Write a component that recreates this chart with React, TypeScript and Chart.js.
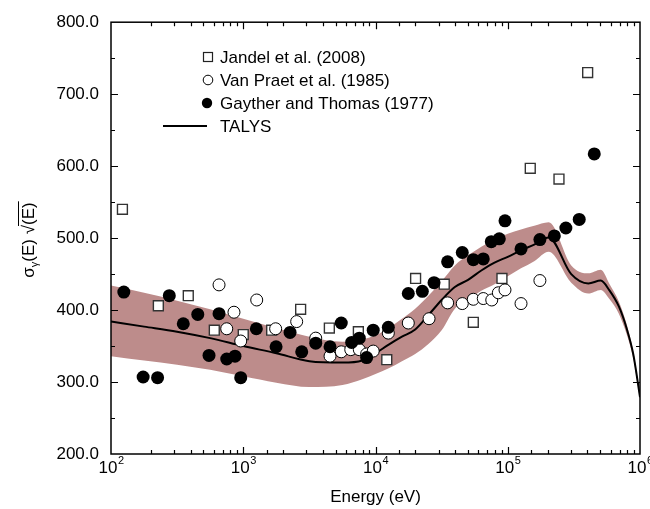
import React, { useEffect, useRef } from 'react';
import { Chart, registerables } from 'chart.js';

Chart.register(...registerables);

const FONT = '"Liberation Sans", Arial, Helvetica, sans-serif';
const BAND = '#bd8c8b';

// Jandel et al. (2008)
const jandelE = [122, 228, 384, 604, 1000, 1640, 2716, 4477, 7420, 12170, 20100, 33100, 54900, 90400, 148000, 244000, 402000];
const jandelS = [540, 406, 420, 372, 366, 372, 401, 375, 370, 331, 444, 436, 383, 444, 597, 582, 730];

// Van Praet et al. (1985)
const praetE = [656, 750, 851, 957, 1264, 1758, 2535, 3532, 4531, 5510, 6500, 7540, 8570, 9610, 12500, 17700, 25400, 35100, 45300, 54900, 65300, 75700, 84900, 95300, 126000, 175000];
const praetS = [435, 374, 397, 357, 414, 374, 384, 361, 336, 342, 345, 345, 339, 343, 368, 382, 388, 410, 409, 415, 416, 414, 424, 428, 409, 441];

// Gayther and Thomas (1977)
const gaytherE = [125, 175, 225, 276, 352, 453, 551, 656, 750, 866, 957, 1256, 1771, 2259, 2768, 3532, 4531, 5510, 6602, 7540, 8570, 9610, 12500, 17700, 22600, 27700, 35100, 45300, 54900, 65300, 75100, 86300, 95300, 126000, 175000, 225000, 275000, 347000, 451000];
const gaytherS = [425, 307, 306, 420, 381, 394, 337, 395, 332, 336, 306, 374, 349, 369, 342, 354, 349, 382, 355, 361, 334, 372, 376, 423, 426, 438, 467, 480, 470, 471, 495, 499, 524, 485, 498, 503, 514, 526, 617];

// TALYS calculation and its uncertainty band
const talysE = [100, 178, 316, 562, 1000, 1778, 3162, 5623, 7943, 10000, 12589, 15849, 19953, 25119, 31623, 39811, 50119, 63096, 79433, 100000, 125893, 158489, 204000, 302000, 407000, 505000, 589000, 692000, 794000, 891000, 1000000];
const talysS = [384, 377, 370, 361, 350, 340, 329, 327, 330, 340, 352, 363, 373, 393, 414, 432, 442, 455, 466, 474, 483, 491, 501, 450, 437, 441, 427, 405, 374, 338, 279];
const bandUpper = [434, 424, 413, 401, 388, 375, 363, 356, 359, 365, 375, 388, 402, 420, 440, 462, 476, 488, 498, 506, 512, 517, 522, 462, 451, 456, 436, 412, 380, 342, 282];
const bandLower = [336, 330, 324, 317, 308, 299, 293, 296, 304, 311, 319, 329, 339, 353, 372, 402, 415, 427, 436, 447, 458, 468, 481, 438, 423, 428, 415, 395, 366, 332, 276];

const xTickExponents = [2, 3, 4, 5, 6];
const legendLabels = ['Jandel et al. (2008)', 'Van Praet et al. (1985)', 'Gayther and Thomas (1977)', 'TALYS'];
const xTitle = 'Energy (eV)';

const pts = (xs: number[], ys: number[]) => xs.map((x, i) => ({ x, y: ys[i] }));

const decorPlugin = {
  id: 'decor',
  afterDraw(chart: any) {
    const { ctx, chartArea: a, scales } = chart;
    const xs = scales.x;
    const ys = scales.y;
    ctx.save();
    // frame
    ctx.strokeStyle = '#000';
    ctx.lineWidth = 1.5;
    ctx.strokeRect(a.left, a.top, a.right - a.left, a.bottom - a.top);
    // x ticks (inward, bottom and top)
    ctx.lineWidth = 1.2;
    ctx.beginPath();
    for (const t of xs.ticks) {
      const v = t.value;
      if (v <= xs.min || v >= xs.max) continue;
      const major = Math.abs(Math.log10(v) - Math.round(Math.log10(v))) < 1e-6;
      const len = major ? 7 : 4;
      const px = Math.round(xs.getPixelForValue(v)) + 0.5;
      ctx.moveTo(px, a.bottom);
      ctx.lineTo(px, a.bottom - len);
      ctx.moveTo(px, a.top);
      ctx.lineTo(px, a.top + len);
    }
    // y ticks (inward, left and right)
    for (const t of ys.ticks) {
      const v = t.value;
      if (v <= ys.min || v >= ys.max) continue;
      const major = v % 100 === 0;
      const len = major ? 7 : 4;
      const py = Math.round(ys.getPixelForValue(v)) + 0.5;
      ctx.moveTo(a.left, py);
      ctx.lineTo(a.left + len, py);
      ctx.moveTo(a.right, py);
      ctx.lineTo(a.right - len, py);
    }
    ctx.stroke();

    // x tick labels 10^n
    ctx.fillStyle = '#000';
    ctx.textBaseline = 'alphabetic';
    ctx.textAlign = 'left';
    for (const e of xTickExponents) {
      const px = xs.getPixelForValue(Math.pow(10, e));
      ctx.font = `17px ${FONT}`;
      const w1 = ctx.measureText('10').width;
      ctx.font = `11px ${FONT}`;
      const w2 = ctx.measureText(String(e)).width;
      const x0 = px - (w1 + w2) / 2;
      ctx.font = `17px ${FONT}`;
      ctx.fillText('10', x0, a.bottom + 19);
      ctx.font = `11px ${FONT}`;
      ctx.fillText(String(e), x0 + w1 + 0.5, a.bottom + 10);
    }
    // x title
    ctx.font = `17px ${FONT}`;
    ctx.textAlign = 'center';
    ctx.fillText(xTitle, (a.left + a.right) / 2, a.bottom + 48);

    // y title: sigma_gamma(E) sqrt(E)
    ctx.save();
    ctx.translate(28, 240);
    ctx.rotate(-Math.PI / 2);
    ctx.textAlign = 'left';
    const parts: [string, number, number][] = [
      ['σ', 17, 0],
      ['γ', 11, 4],
      ['(E) ', 17, 0],
      ['√', 17, 0],
      ['(E)', 17, 0],
    ];
    let total = 0;
    const widths: number[] = [];
    for (const [s, f] of parts) {
      ctx.font = `${f}px ${FONT}`;
      const w = ctx.measureText(s).width;
      widths.push(w);
      total += w;
    }
    let cx = -total / 2;
    const base = 6;
    let barStart = 0;
    parts.forEach(([s, f, dy], i) => {
      ctx.font = `${f}px ${FONT}`;
      ctx.fillText(s, cx, base + dy);
      if (i === 4) barStart = cx - 1;
      cx += widths[i];
    });
    ctx.lineWidth = 1;
    ctx.beginPath();
    ctx.moveTo(barStart, base - 15.5);
    ctx.lineTo(cx + 1, base - 15.5);
    ctx.stroke();
    ctx.restore();

    // legend
    const rows = [57, 80, 103, 126];
    const mx = 208;
    const tx = 220;
    ctx.font = `17px ${FONT}`;
    ctx.textAlign = 'left';
    ctx.textBaseline = 'middle';
    legendLabels.forEach((lab, i) => {
      const y = rows[i];
      ctx.fillText(lab, tx, y + 1);
    });
    ctx.lineWidth = 1.2;
    ctx.strokeStyle = '#222';
    ctx.fillStyle = '#fff';
    ctx.fillRect(mx - 4.5, rows[0] - 4.5, 9, 9);
    ctx.strokeRect(mx - 4.5, rows[0] - 4.5, 9, 9);
    ctx.beginPath();
    ctx.arc(mx, rows[1], 4.8, 0, Math.PI * 2);
    ctx.fill();
    ctx.strokeStyle = '#000';
    ctx.lineWidth = 1;
    ctx.stroke();
    ctx.fillStyle = '#000';
    ctx.beginPath();
    ctx.arc(mx - 1, rows[2], 5.2, 0, Math.PI * 2);
    ctx.fill();
    ctx.lineWidth = 2;
    ctx.beginPath();
    ctx.moveTo(163, rows[3]);
    ctx.lineTo(207, rows[3]);
    ctx.stroke();
    ctx.restore();
  },
};

export default function App() {
  const ref = useRef<HTMLCanvasElement>(null);
  useEffect(() => {
    const canvas = ref.current!;
    const chart = new Chart(canvas, {
      type: 'scatter',
      data: {
        datasets: [
          {
            label: legendLabels[2],
            data: pts(gaytherE, gaytherS),
            pointStyle: 'circle',
            pointRadius: 6.5,
            backgroundColor: '#000',
            borderColor: '#000',
            borderWidth: 0,
            order: 1,
          },
          {
            label: legendLabels[1],
            data: pts(praetE, praetS),
            pointStyle: 'circle',
            pointRadius: 6,
            backgroundColor: '#fff',
            borderColor: '#000',
            borderWidth: 1,
            order: 2,
          },
          {
            label: legendLabels[0],
            data: pts(jandelE, jandelS),
            pointStyle: 'rect',
            pointRadius: 7,
            backgroundColor: '#fff',
            borderColor: '#333',
            borderWidth: 1.4,
            order: 3,
          },
          {
            label: legendLabels[3],
            data: pts(talysE, talysS),
            showLine: true,
            pointRadius: 0,
            borderColor: '#000',
            borderWidth: 2,
            cubicInterpolationMode: 'monotone',
            fill: false,
            order: 4,
          } as any,
          {
            label: 'upper',
            data: pts(talysE, bandUpper),
            showLine: true,
            pointRadius: 0,
            borderWidth: 0,
            borderColor: BAND,
            backgroundColor: BAND,
            cubicInterpolationMode: 'monotone',
            fill: '+1',
            order: 5,
          } as any,
          {
            label: 'lower',
            data: pts(talysE, bandLower),
            showLine: true,
            pointRadius: 0,
            borderWidth: 0,
            borderColor: BAND,
            backgroundColor: BAND,
            cubicInterpolationMode: 'monotone',
            fill: false,
            order: 6,
          } as any,
        ],
      },
      options: {
        responsive: false,
        animation: false,
        events: [],
        layout: { padding: { top: 14, right: 10, left: 0, bottom: 0 } },
        plugins: {
          legend: { display: false },
          tooltip: { enabled: false },
          filler: { propagate: false },
        },
        scales: {
          x: {
            type: 'logarithmic',
            min: 100,
            max: 1000000,
            grid: { display: false, drawTicks: false },
            border: { display: false },
            ticks: { display: false, autoSkip: false },
            afterFit: (s: any) => { s.height = 55; },
          },
          y: {
            type: 'linear',
            min: 200,
            max: 800,
            grid: { display: false, drawTicks: false },
            border: { display: false },
            ticks: {
              stepSize: 50,
              autoSkip: false,
              padding: 12,
              color: '#000',
              font: { family: FONT, size: 17 },
              callback: (v: any) => (Number(v) % 100 === 0 ? Number(v).toFixed(1) : ''),
            },
            afterFit: (s: any) => { s.width = 111; },
          },
        },
      } as any,
      plugins: [decorPlugin],
    });
    return () => chart.destroy();
  }, []);
  return (
    <div style={{ position: 'absolute', left: 0, top: 0, width: 650, height: 509, background: '#fff' }}>
      <canvas ref={ref} width={650} height={509} style={{ display: 'block' }} />
    </div>
  );
}
